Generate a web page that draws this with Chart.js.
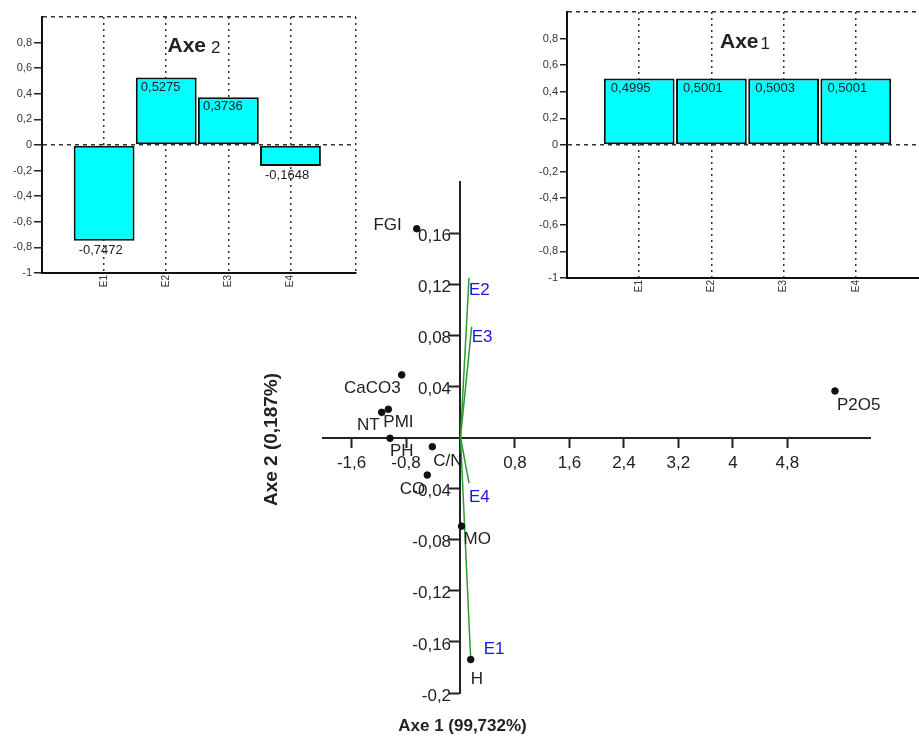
<!DOCTYPE html>
<html>
<head>
<meta charset="utf-8">
<script src="https://cdn.jsdelivr.net/npm/chart.js@4.4.0/dist/chart.umd.min.js"></script>
<style>
  html, body { margin: 0; padding: 0; background: #fff; overflow: hidden; }
  #wrap { position: relative; width: 919px; height: 737px; }
  canvas { position: absolute; top: 0; }
  #biplot { left: 0; }
  #axe2Chart { left: 0; }
  #axe1Chart { left: 530px; }
</style>
</head>
<body>
<div id="wrap">
  <canvas id="biplot" width="919" height="737"></canvas>
  <canvas id="axe2Chart" width="370" height="300"></canvas>
  <canvas id="axe1Chart" width="389" height="300"></canvas>
</div>
<script>
// variables (points) on the factorial plane
const varNames = ['FGI', 'CaCO3', 'NT', 'PMI', 'PH', 'C/N', 'CO', 'MO', 'H', 'P2O5'];
const varX = [-0.643, -0.863, -1.157, -1.06, -1.035, -0.414, -0.488, 0.015, 0.15, 5.499];
const varY = [0.1634, 0.049, 0.0197, 0.0221, -0.0006, -0.0072, -0.0294, -0.0694, -0.1738, 0.0364];

// observations drawn as vectors from the origin
const vecNames = ['E1', 'E2', 'E3', 'E4'];
const vecX = [0.15, 0.125, 0.164, 0.125];
const vecY = [-0.1738, 0.125, 0.0868, -0.0357];

const xTickValues = [-1.6, -0.8, 0.8, 1.6, 2.4, 3.2, 4, 4.8];
const yTickValues = [0.16, 0.12, 0.08, 0.04, -0.04, -0.08, -0.12, -0.16, -0.2];

// inset bar charts
const barCats = ['E1', 'E2', 'E3', 'E4'];
const axe2Values = [-0.7472, 0.5275, 0.3736, -0.1648];
const axe1Values = [0.4995, 0.5001, 0.5003, 0.5001];

Chart.defaults.font.family = '"Liberation Sans", Arial, sans-serif';

const fmt = v => String(Math.round(v * 10000) / 10000).replace('.', ',');

// where each name sits relative to its mark: [dx, dy to baseline, align]
const labelPlace = {
  FGI: [-15, 1, 'right'], CaCO3: [-1, 18, 'right'], NT: [-2, 18, 'right'],
  PMI: [-5, 18, 'left'], PH: [0, 18, 'left'], 'C/N': [1, 19, 'left'],
  CO: [-2, 19, 'right'], MO: [2, 18, 'left'], H: [0, 24, 'left'], P2O5: [2, 19, 'left'],
  E1: [13, -6, 'left'], E2: [0, 17, 'left'], E3: [0, 15, 'left'], E4: [0, 19, 'left'],
};

const biplotLabels = {
  id: 'biplotLabels',
  afterDatasetsDraw(chart) {
    const {ctx, chartArea, scales} = chart;
    ctx.save();
    ctx.font = '17px "Liberation Sans", Arial, sans-serif';
    ctx.textBaseline = 'alphabetic';
    const put = (name, el, color) => {
      const [dx, dy, align] = labelPlace[name];
      ctx.fillStyle = color;
      ctx.textAlign = align;
      ctx.fillText(name, el.x + dx, el.y + dy);
    };
    chart.getDatasetMeta(0).data.forEach((pt, i) => put(varNames[i], pt, '#222'));
    vecNames.forEach((name, i) => put(name, chart.getDatasetMeta(i + 1).data[1], '#1515ee'));

    // axis titles
    ctx.fillStyle = '#222';
    ctx.font = 'bold 17px "Liberation Sans", Arial, sans-serif';
    ctx.textAlign = 'center';
    ctx.fillText('Axe 1 (99,732%)', scales.x.getPixelForValue(0) + 2, chartArea.bottom + 38);
    ctx.font = 'bold 19px "Liberation Sans", Arial, sans-serif';
    ctx.translate(chartArea.left - 51, scales.y.getPixelForValue(0) + 2);
    ctx.rotate(-Math.PI / 2);
    ctx.textBaseline = 'middle';
    ctx.fillText('Axe 2 (0,187%)', 0, 0);
    ctx.restore();
  },
};

new Chart(document.getElementById('biplot'), {
  type: 'scatter',
  data: {
    datasets: [
      {
        label: 'variables',
        data: varNames.map((n, i) => ({x: varX[i], y: varY[i]})),
        backgroundColor: '#111',
        borderColor: '#111',
        pointRadius: 3.3,
      },
      ...vecNames.map((name, i) => ({
        type: 'line',
        label: name,
        data: [{x: 0, y: 0}, {x: vecX[i], y: vecY[i]}],
        borderColor: '#2f9a2f',
        borderWidth: 1.5,
        pointRadius: 0,
        fill: false,
      })),
    ],
  },
  options: {
    responsive: false,
    animation: false,
    layout: {padding: {left: 323, right: 49, top: 182, bottom: 44}},
    plugins: {legend: {display: false}, tooltip: {enabled: false}},
    scales: {
      x: {
        type: 'linear',
        min: -2.019,
        max: 6.013,
        position: {y: 0},
        afterBuildTicks: s => { s.ticks = xTickValues.map(v => ({value: v})); },
        grid: {drawOnChartArea: false, tickLength: 9, tickColor: '#222', tickWidth: 2},
        border: {color: '#222', width: 2},
        ticks: {padding: 7, color: '#222', font: {size: 17}, maxRotation: 0, autoSkip: false, callback: fmt},
      },
      y: {
        type: 'linear',
        min: -0.2,
        max: 0.2,
        position: {x: 0},
        afterBuildTicks: s => { s.ticks = yTickValues.map(v => ({value: v})); },
        grid: {drawOnChartArea: false, tickLength: 10, tickColor: '#222', tickWidth: 2},
        border: {color: '#222', width: 2},
        // labels of a crossing axis are right-aligned on the axis line, so pad them off the ticks
        ticks: {labelOffset: 3, color: '#222', font: {size: 17}, autoSkip: false, callback: v => fmt(v) + '  '},
      },
    },
  },
  plugins: [biplotLabels],
});

// value notes on the bars and the small title inside the plot
const barNotes = {
  id: 'barNotes',
  afterDatasetsDraw(chart, args, opts) {
    const {ctx, chartArea} = chart;
    ctx.save();
    ctx.fillStyle = '#222';
    ctx.font = '13px "Liberation Sans", Arial, sans-serif';
    ctx.textAlign = 'left';
    ctx.textBaseline = 'top';
    chart.getDatasetMeta(0).data.forEach((bar, i) => {
      ctx.fillText(fmt(opts.values[i]), bar.x - bar.width / 2 + opts.dx, bar.y + 3);
    });

    const boldFont = 'bold 21px "Liberation Sans", Arial, sans-serif';
    const numFont = '17px "Liberation Sans", Arial, sans-serif';
    ctx.font = boldFont;
    const wA = ctx.measureText('Axe').width;
    ctx.font = numFont;
    const wN = ctx.measureText(opts.num).width;
    const x0 = (chartArea.left + chartArea.right) / 2 + opts.titleDx - (wA + opts.gap + wN) / 2;
    const base = chartArea.top + opts.titleDy;
    ctx.textBaseline = 'alphabetic';
    ctx.font = boldFont;
    ctx.fillText('Axe', x0, base);
    ctx.font = numFont;
    ctx.fillText(opts.num, x0 + wA + opts.gap, base + 1);
    ctx.restore();
  },
};

function buildInset(canvasId, values, cfg) {
  return new Chart(document.getElementById(canvasId), {
    type: 'bar',
    data: {
      datasets: [{
        data: values.map((v, i) => ({x: i + 1, y: v})),
        backgroundColor: '#00ffff',
        borderColor: '#111',
        borderWidth: 2,
        borderSkipped: false,
        categoryPercentage: 1,
        barPercentage: 0.98,
      }],
    },
    options: {
      responsive: false,
      animation: false,
      layout: {padding: cfg.padding},
      plugins: {
        legend: {display: false},
        tooltip: {enabled: false},
        barNotes: {values, dx: cfg.noteDx, num: cfg.num, gap: cfg.gap, titleDx: cfg.titleDx, titleDy: cfg.titleDy},
      },
      scales: {
        x: {
          type: 'linear',
          min: 0,
          max: cfg.xMax,
          offset: false,
          afterBuildTicks: s => { s.ticks = cfg.gridAt.map(v => ({value: v})); },
          afterFit: s => { s.height = cfg.xAxisHeight; },
          grid: {offset: false, color: '#333', lineWidth: 1.5, drawTicks: false},
          border: {color: '#111', width: 2, dash: [2, 4]},
          ticks: {
            autoSkip: false, minRotation: 90, maxRotation: 90, padding: 2,
            color: '#333', font: {size: 10},
            callback: v => barCats[v - 1] || '',
          },
        },
        y: {
          min: -1,
          max: 1,
          afterFit: s => { s.width = cfg.yAxisWidth; },
          grid: {
            color: c => (c.tick.value === 0 || c.tick.value === 1) ? '#333' : 'rgba(0,0,0,0)',
            tickColor: c => c.tick.value === 1 ? 'rgba(0,0,0,0)' : '#222',
            tickLength: cfg.yTick,
            lineWidth: 1.5,
          },
          border: {color: '#111', width: 2, dash: [4, 4]},
          ticks: {
            stepSize: 0.2, padding: 2, color: '#333', font: {size: 11},
            callback: v => (v === 1 ? '' : fmt(v)),
          },
        },
      },
    },
    plugins: [barNotes],
  });
}

buildInset('axe2Chart', axe2Values, {
  padding: {left: 0, right: 8, top: 17, bottom: 0},
  xMax: 5.055, gridAt: [1, 2, 3, 4, 5.055],
  xAxisHeight: 27, yAxisWidth: 42, yTick: 8,
  noteDx: 5, num: '2', gap: 5, titleDx: -5, titleDy: 35,
});

buildInset('axe1Chart', axe1Values, {
  padding: {left: 0, right: 0, top: 12, bottom: 0},
  xMax: 4.875, gridAt: [1, 2, 3, 4],
  xAxisHeight: 22, yAxisWidth: 37, yTick: 7,
  noteDx: 7, num: '1', gap: 2, titleDx: 2, titleDy: 36,
});
</script>
</body>
</html>
